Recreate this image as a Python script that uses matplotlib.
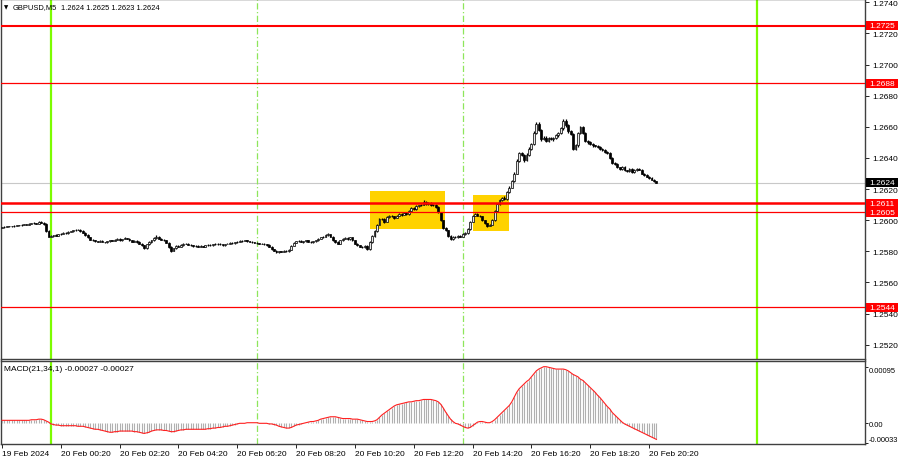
import matplotlib
matplotlib.use('Agg')
import matplotlib.pyplot as plt
import numpy as np
from matplotlib.patches import Rectangle
import matplotlib.transforms as mtransforms

plt.rcParams['font.family'] = ['Liberation Sans', 'DejaVu Sans']

# ---------------- data ----------------
symbol = 'GBPUSD,M5'
last_ohlc = ['1.2624', '1.2625', '1.2623', '1.2624']
macd_title = 'MACD(21,34,1) -0.00027 -0.00027'

first_open = 1.25950
closes = [
    1.25955, 1.25958, 1.25960, 1.25962, 1.25960, 1.25965, 1.25968, 1.25966, 1.25972, 1.25975,
    1.25972, 1.25978, 1.25980, 1.25982, 1.25978, 1.25990, 1.25985, 1.25975, 1.25930, 1.25895,
    1.25898, 1.25905, 1.25900, 1.25910, 1.25912, 1.25918, 1.25915, 1.25925, 1.25930, 1.25935, 1.25940, 1.25938,
    1.25930, 1.25920, 1.25905, 1.25890, 1.25875, 1.25870, 1.25865, 1.25862, 1.25868, 1.25860, 1.25858, 1.25865,
    1.25870, 1.25868, 1.25875, 1.25880, 1.25872, 1.25878, 1.25885, 1.25880, 1.25870, 1.25862, 1.25868, 1.25860,
    1.25850, 1.25840, 1.25820, 1.25845, 1.25860, 1.25870, 1.25885, 1.25895, 1.25880, 1.25875, 1.25870, 1.25855,
    1.25830, 1.25805, 1.25820, 1.25835, 1.25830, 1.25840, 1.25848, 1.25850, 1.25842, 1.25838, 1.25832, 1.25835,
    1.25830, 1.25835, 1.25830, 1.25838, 1.25842, 1.25840, 1.25848, 1.25845, 1.25850, 1.25845, 1.25840, 1.25848,
    1.25850, 1.25855, 1.25852, 1.25858, 1.25862, 1.25865, 1.25868, 1.25870, 1.25865, 1.25862, 1.25858, 1.25855,
    1.25852, 1.25850, 1.25848, 1.25845, 1.25840, 1.25830, 1.25815, 1.25805, 1.25795, 1.25800, 1.25798, 1.25805,
    1.25800, 1.25810, 1.25835, 1.25855, 1.25865, 1.25868, 1.25860, 1.25865, 1.25870, 1.25862, 1.25858, 1.25865,
    1.25870, 1.25880, 1.25890, 1.25895, 1.25905, 1.25910, 1.25895, 1.25870, 1.25860, 1.25850, 1.25870, 1.25880,
    1.25885, 1.25878, 1.25890, 1.25870, 1.25850, 1.25840, 1.25830, 1.25825, 1.25835, 1.25815, 1.25860, 1.25900,
    1.25930, 1.25970, 1.26005, 1.26010, 1.25990, 1.26020, 1.26030, 1.26025, 1.26015, 1.26030, 1.26040, 1.26035,
    1.26045, 1.26040, 1.26060, 1.26080, 1.26070, 1.26090, 1.26095, 1.26100, 1.26120, 1.26105, 1.26110, 1.26095,
    1.26100, 1.26085, 1.26050, 1.26000, 1.25950, 1.25935, 1.25900, 1.25880, 1.25895, 1.25890, 1.25900, 1.25895,
    1.25910, 1.25920, 1.25945, 1.25990, 1.26030, 1.26040, 1.26030, 1.26025, 1.26000, 1.25980, 1.25965, 1.25970,
    1.26000, 1.26060, 1.26105, 1.26130, 1.26145, 1.26135, 1.26180, 1.26210, 1.26250, 1.26300, 1.26380, 1.26430,
    1.26420, 1.26385, 1.26420, 1.26460, 1.26490, 1.26560, 1.26620, 1.26580, 1.26520, 1.26530, 1.26510, 1.26525,
    1.26520, 1.26530, 1.26545, 1.26560, 1.26590, 1.26640, 1.26610, 1.26570, 1.26555, 1.26460, 1.26480, 1.26560,
    1.26600, 1.26560, 1.26510, 1.26500, 1.26490, 1.26480, 1.26475, 1.26470, 1.26460, 1.26450, 1.26440, 1.26430,
    1.26400, 1.26370, 1.26360, 1.26340, 1.26330, 1.26340, 1.26320, 1.26315, 1.26330, 1.26310, 1.26320, 1.26330,
    1.26325, 1.26300, 1.26290, 1.26280, 1.26270, 1.26260, 1.26250, 1.26240,
]
# wick lengths beyond the body, in points (0.00001)
wick_up = [
    3, 2, 4, 2, 3, 5, 2, 3, 4, 2, 3, 3, 2, 4, 3, 5, 3, 2, 6, 4,
    5, 3, 4, 2, 3, 4, 3, 5, 2, 4, 3, 3,
    3, 4, 2, 5, 3, 2, 4, 3, 2, 5, 3, 4,
    2, 3, 4, 3, 5, 2, 4, 3, 3, 2, 4, 3,
    4, 6, 3, 5, 4, 3, 5, 8, 4, 3, 4, 3,
    5, 4, 3, 6, 3, 4, 3, 4, 5, 3, 2, 4,
    3, 4, 2, 3, 4, 3, 2, 4, 3, 5, 3, 2,
    3, 2, 4, 3, 3, 5, 4, 3, 2, 3, 4, 3,
    3, 4, 2, 3, 3, 4, 3, 2, 5, 3, 4, 3,
    4, 3, 5, 4, 3, 3, 5, 4, 3, 4, 3, 3,
    4, 5, 3, 4, 6, 5, 3, 4, 3, 5, 4, 6,
    4, 5, 3, 4, 3, 5, 3, 4, 6, 5, 4, 6,
    6, 5, 8, 4, 5, 6, 4, 5, 3, 6, 5, 4,
    5, 6, 4, 7, 5, 6, 4, 5, 7, 5, 6, 4,
    5, 4, 6, 5, 4, 6, 5, 4, 6, 5, 4, 5,
    5, 6, 5, 7, 6, 5, 4, 6, 5, 4, 5, 6,
    6, 7, 5, 6, 5, 8, 6, 7, 8, 9, 10, 9,
    8, 7, 9, 8, 7, 10, 9, 8, 7, 9, 8, 7,
    8, 7, 9, 8, 10, 12, 8, 7, 9, 6, 8, 9,
    8, 7, 9, 6, 7, 8, 6, 7, 5, 6, 7, 6,
    6, 5, 7, 6, 5, 6, 7, 5, 6, 5, 6, 7,
    5, 6, 5, 6, 4, 5, 4, 3,
]
wick_dn = [
    2, 3, 2, 4, 3, 2, 3, 4, 2, 3, 3, 2, 4, 3, 2, 3, 4, 5, 7, 5,
    4, 3, 2, 4, 3, 3, 4, 2, 3, 3, 4, 2,
    4, 3, 5, 3, 4, 3, 3, 5, 2, 3, 4, 3,
    3, 4, 2, 3, 3, 4, 2, 3, 5, 3, 3, 4,
    5, 7, 8, 4, 3, 4, 3, 3, 4, 5, 3, 4,
    6, 8, 4, 3, 4, 3, 5, 3, 3, 4, 3, 3,
    4, 3, 3, 4, 2, 3, 4, 3, 3, 2, 4, 3,
    2, 3, 3, 4, 3, 2, 3, 4, 3, 3, 2, 4,
    3, 3, 4, 3, 4, 5, 4, 6, 7, 4, 5, 4,
    5, 4, 3, 3, 4, 3, 3, 4, 3, 3, 4, 3,
    3, 3, 4, 3, 3, 4, 5, 4, 5, 6, 4, 3,
    4, 3, 5, 4, 5, 4, 5, 4, 3, 7, 5, 4,
    5, 4, 3, 6, 5, 4, 5, 4, 6, 4, 5, 5,
    4, 5, 6, 4, 5, 4, 6, 5, 4, 6, 5, 6,
    5, 6, 5, 7, 8, 6, 7, 8, 6, 5, 6, 4,
    5, 4, 6, 5, 4, 6, 5, 6, 5, 7, 6, 5,
    4, 5, 6, 5, 6, 5, 6, 5, 6, 7, 6, 8,
    7, 8, 6, 7, 8, 7, 8, 9, 8, 7, 9, 8,
    7, 8, 6, 9, 7, 8, 9, 7, 8, 12, 9, 7,
    8, 9, 7, 8, 6, 7, 6, 7, 6, 8, 6, 7,
    7, 6, 5, 6, 7, 5, 6, 7, 5, 6, 5, 6,
    5, 6, 5, 4, 5, 4, 5, 4,
]
# MACD main values in units of 0.00001
macd_e5 = [
    5, 5, 5, 5, 5, 5, 5, 5, 5, 5, 5, 5, 6, 6, 6, 7, 7, 6, 4, 2,
    -1, -2, -3, -3, -4, -4, -4, -4, -4, -4, -4, -5,
    -5, -5, -6, -7, -8, -9, -10, -10, -11, -12, -13, -14,
    -15, -15, -14, -14, -13, -13, -13, -13, -13, -13, -14, -14,
    -15, -16, -17, -16, -15, -13, -12, -11, -11, -11, -12, -12,
    -13, -14, -14, -13, -12, -11, -11, -10, -10, -10, -10, -10,
    -10, -10, -10, -10, -9, -9, -8, -8, -7, -7, -6, -5,
    -5, -4, -3, -2, -1, 0, 0, 0, 1, 1, 1, 1,
    1, 0, 0, 0, 0, -1, -1, -2, -3, -5, -6, -7,
    -8, -8, -7, -5, -3, -2, -1, 0, 1, 2, 3, 3,
    4, 5, 7, 8, 9, 10, 11, 11, 11, 10, 9, 8,
    8, 8, 8, 7, 7, 7, 6, 5, 4, 3, 3, 3,
    4, 6, 10, 14, 17, 20, 23, 26, 29, 31, 32, 33,
    34, 35, 36, 36, 37, 38, 38, 39, 40, 40, 40, 40,
    39, 38, 36, 32, 26, 19, 13, 7, 3, 0, -1, -3,
    -5, -7, -8, -7, -4, -1, 2, 3, 3, 2, 1, 1,
    3, 6, 10, 14, 18, 22, 26, 30, 36, 44, 52, 58,
    62, 66, 70, 73, 78, 83, 88, 91, 93, 95, 95, 94,
    93, 92, 91, 91, 91, 91, 90, 88, 85, 82, 80, 78,
    74, 72, 68, 64, 60, 56, 52, 47, 43, 38, 33, 28,
    24, 18, 14, 10, 6, 2, -1, -3, -5, -7, -9, -11,
    -13, -15, -17, -19, -21, -23, -25, -27,
]

levels = [1.2725, 1.2688, 1.2611, 1.2605, 1.2544]
current_price = 1.2624
day_bars = [20, 308]          # 20 Feb 00:00, 21 Feb 00:00
session_bars = [104, 188]     # 07:00, 14:00
boxes = [(150.2, 180.8, 1.25944, 1.26188), (192.2, 206.9, 1.25931, 1.26162)]

xtick_bars = [0, 24, 48, 72, 96, 120, 144, 168, 192, 216, 240, 264]
xtick_labels = ['19 Feb 2024', '20 Feb 00:20', '20 Feb 02:20', '20 Feb 04:20',
                '20 Feb 06:20', '20 Feb 08:20', '20 Feb 10:20', '20 Feb 12:20',
                '20 Feb 14:20', '20 Feb 16:20', '20 Feb 18:20', '20 Feb 20:20']
price_ticks = [1.2520, 1.2540, 1.2560, 1.2580, 1.2600, 1.2620, 1.2640,
               1.2660, 1.2680, 1.2700, 1.2720, 1.2740]
macd_ticks = [0.00095, 0.0, -0.00033]
macd_tick_labels = ['0.00095', '0.00', '-0.00033']

assert len(closes) == len(wick_up) == len(wick_dn) == len(macd_e5), \
    (len(closes), len(wick_up), len(wick_dn), len(macd_e5))

# ---------------- figure ----------------
W, H = 900, 460
FS = 6.0
FS_SMALL = 5.4
fig = plt.figure(figsize=(W / 100, H / 100), dpi=100)
fig.patch.set_facecolor('white')

main_top, main_bot = 0.0, 359.5
macd_top, macd_bot = 361.5, 445.0
left_px, right_px = 1.0, 865.0
ax = fig.add_axes([left_px / W, 1 - main_bot / H, (right_px - left_px) / W, (main_bot - main_top) / H])
ax2 = fig.add_axes([left_px / W, 1 - macd_bot / H, (right_px - left_px) / W, (macd_bot - macd_top) / H],
                   sharex=ax)

x = np.arange(len(closes))
c = np.array(closes)
o = np.concatenate([[first_open], c[:-1]])
hi = np.maximum(o, c) + np.array(wick_up) * 1e-5
lo = np.minimum(o, c) - np.array(wick_dn) * 1e-5
macd = np.array(macd_e5) * 1e-5

ymin, ymax = 1.251114, 1.274212
ax.set_ylim(ymin, ymax)
ax.set_xlim(-0.4, 352.1)
px_per_price = (main_bot - main_top) / (ymax - ymin)

# yellow boxes
for x0, x1, y0, y1 in boxes:
    ax.add_patch(Rectangle((x0, y0), x1 - x0, y1 - y0, facecolor='#FFD200', edgecolor='none', zorder=1))

# current price line
ax.axhline(current_price, color='#C8C8C8', lw=0.8, zorder=1.5)

# vertical lines in both panels
for a in (ax, ax2):
    for b in day_bars:
        a.axvline(b, color='#7CFC00', lw=1.6, zorder=2)
    for b in session_bars:
        a.axvline(b, color='#8EE65A', lw=0.9, ls=(0, (5, 2, 1, 2)), zorder=2)

# candles
ax.vlines(x, lo, hi, color='black', lw=0.9, zorder=3)
bull = c >= o
body_h = np.maximum(np.abs(c - o), 1.5e-5)
body_b = np.minimum(o, c)
ax.bar(x[bull], body_h[bull], bottom=body_b[bull], width=0.75, color='#E8E8E8',
       edgecolor='black', linewidth=0.5, zorder=4)
ax.bar(x[~bull], body_h[~bull], bottom=body_b[~bull], width=0.75, color='black',
       edgecolor='black', linewidth=0.5, zorder=4)

# horizontal levels
level_lw = {1.2725: 1.5, 1.2611: 1.8}
for lv in levels:
    ax.axhline(lv, color='#FF0000', lw=level_lw.get(lv, 0.9), zorder=5)

# price axis
ax.yaxis.tick_right()
ax.set_yticks(price_ticks)
ax.set_yticklabels(['%.4f' % t for t in price_ticks], fontsize=FS)
ax.tick_params(axis='y', length=3, width=0.6, pad=2, colors='black')
ax.tick_params(axis='x', bottom=False, labelbottom=False)
for s in ax.spines.values():
    s.set_color('#404040')
    s.set_linewidth(1.0)

# level label boxes
trans = mtransforms.blended_transform_factory(fig.transFigure, ax.transData)
box_h = 9.0 / px_per_price
for lv, fc in [(l, '#FF0000') for l in levels] + [(current_price, '#000000')]:
    r = Rectangle((866 / W, lv - box_h / 2), 32 / W, box_h, transform=trans,
                  facecolor=fc, edgecolor='none', zorder=10, clip_on=False)
    fig.add_artist(r)
    fig.text(869 / W, lv, '%.4f' % lv, transform=trans, color='white', fontsize=FS,
             va='center', ha='left', zorder=11)

# MACD panel
ax2.vlines(x, 0, macd, color='#B0B0B0', lw=0.8, zorder=3)
ax2.plot(x, macd, color='#FF2020', lw=0.8, zorder=4)
ax2.set_ylim(-0.000347, 0.0010537)
ax2.yaxis.tick_right()
ax2.set_yticks(macd_ticks)
ax2.set_yticklabels(macd_tick_labels, fontsize=FS_SMALL)
ax2.tick_params(axis='y', length=2, width=0.6, pad=1)
labels_m = ax2.get_yticklabels()
labels_m[0].set_va('top')
labels_m[-1].set_va('bottom')
ax2.set_xticks(xtick_bars)
ax2.set_xticklabels(xtick_labels, fontsize=FS, ha='left')
ax2.tick_params(axis='x', length=3, width=0.6, pad=1.5, direction='out')
for s in ax2.spines.values():
    s.set_color('#404040')
    s.set_linewidth(1.0)

# texts
fig.text(4 / W, 1 - 8 / H, '\u25BC', fontsize=4, va='center', ha='left', family=['DejaVu Sans'])
fig.text(13 / W, 1 - 8 / H, symbol, fontsize=FS_SMALL, va='center', ha='left')
fig.text(61 / W, 1 - 8 / H, ' '.join(last_ohlc), fontsize=FS_SMALL, va='center', ha='left')
fig.text(4 / W, 1 - 370 / H, macd_title, fontsize=FS, va='center', ha='left')

fig.savefig('out.png', dpi=100, facecolor='white')
